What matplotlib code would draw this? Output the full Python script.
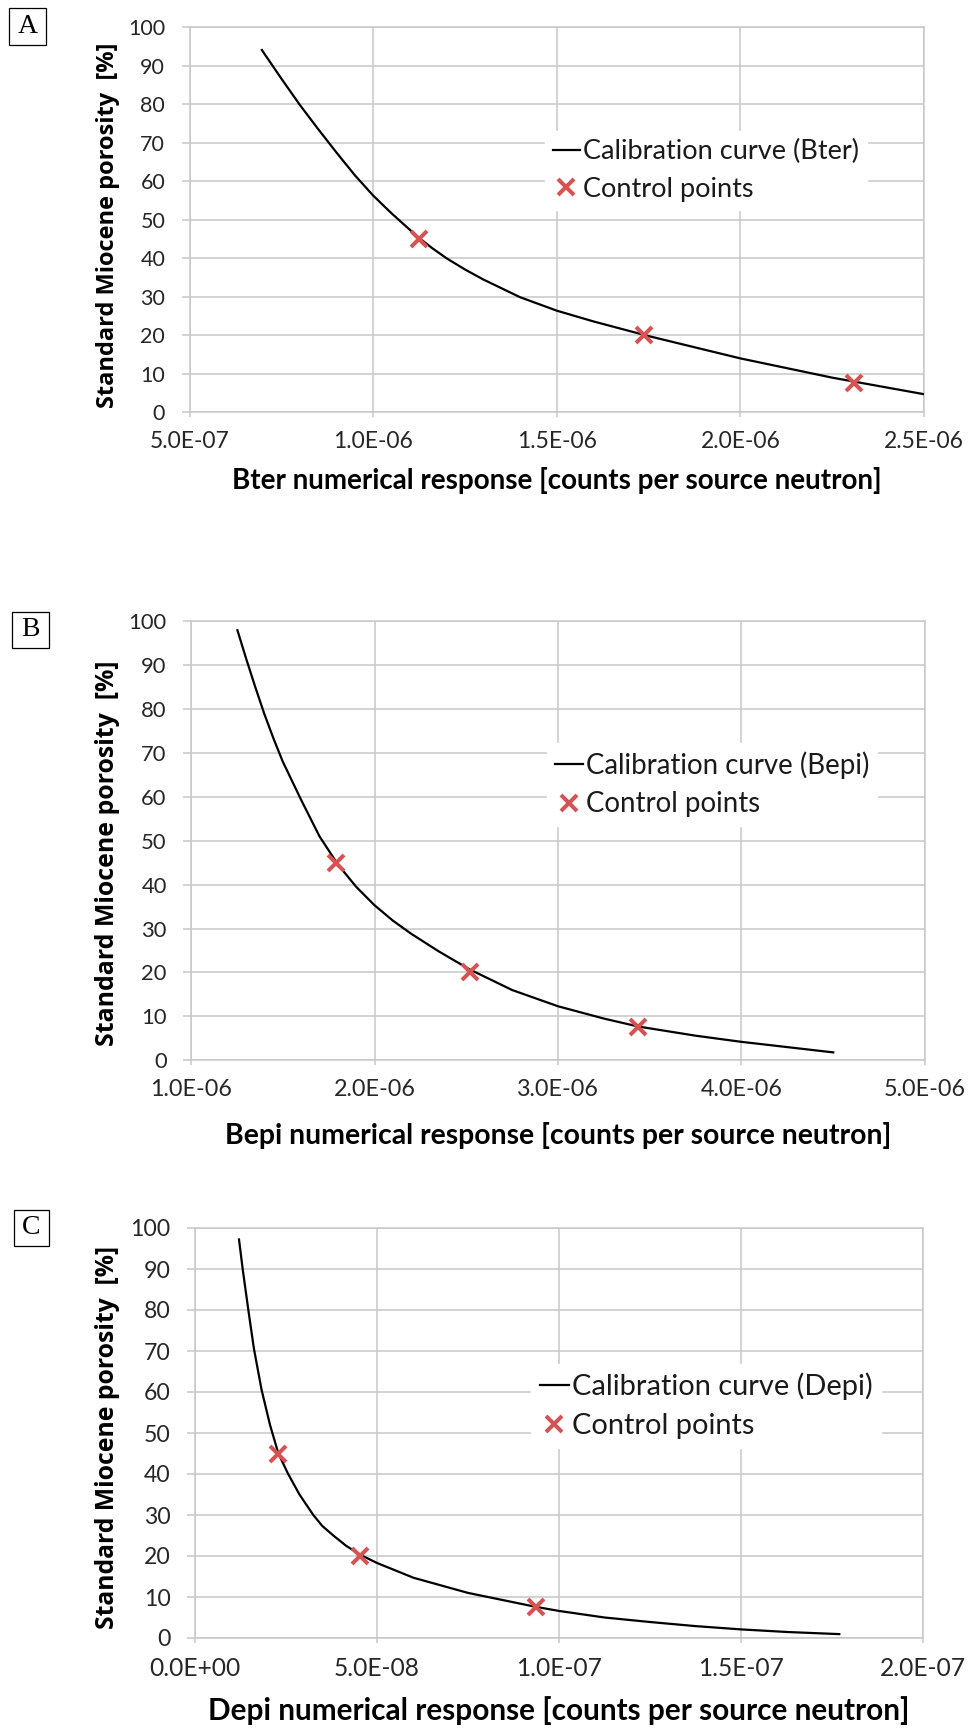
import matplotlib
matplotlib.use("Agg")
import matplotlib.pyplot as plt
from matplotlib.patches import Rectangle

W, H, DPI = 968, 1729, 100

# panel A - Bter
bter_curve_x = [6.97e-07, 7.5e-07, 8.0e-07, 8.5e-07, 9.0e-07, 9.5e-07, 1.0e-06, 1.05e-06, 1.10e-06,
                1.125e-06, 1.16e-06, 1.20e-06, 1.25e-06, 1.30e-06, 1.40e-06, 1.50e-06, 1.60e-06,
                1.75e-06, 2.0e-06, 2.25e-06, 2.5e-06]
bter_curve_y = [94.1, 86.7, 79.9, 73.6, 67.5, 61.6, 56.3, 51.7, 47.4, 45.3, 42.7, 40.0, 37.1, 34.5,
                29.9, 26.4, 23.6, 19.8, 14.0, 9.0, 4.7]
bter_ctrl_x = [1.125e-06, 1.738e-06, 2.309e-06]
bter_ctrl_y = [45, 20, 7.5]
bter_ticks = [5.0e-07, 1.0e-06, 1.5e-06, 2.0e-06, 2.5e-06]
bter_ticklabels = ["5.0E-07", "1.0E-06", "1.5E-06", "2.0E-06", "2.5E-06"]

# panel B - Bepi
bepi_curve_x = [1.253e-06, 1.30e-06, 1.35e-06, 1.40e-06, 1.45e-06, 1.50e-06, 1.60e-06, 1.70e-06,
                1.80e-06, 1.90e-06, 2.0e-06, 2.1e-06, 2.2e-06, 2.35e-06, 2.518e-06, 2.75e-06,
                3.0e-06, 3.25e-06, 3.436e-06, 3.75e-06, 4.0e-06, 4.25e-06, 4.5e-06]
bepi_curve_y = [97.9, 91.5, 85.0, 78.8, 73.2, 68.0, 59.3, 51.0, 44.6, 39.5, 35.3, 31.8, 28.8, 24.8,
                20.7, 16.0, 12.3, 9.5, 7.7, 5.6, 4.2, 3.0, 1.8]
bepi_ctrl_x = [1.789e-06, 2.518e-06, 3.436e-06]
bepi_ctrl_y = [45, 20, 7.5]
bepi_ticks = [1.0e-06, 2.0e-06, 3.0e-06, 4.0e-06, 5.0e-06]
bepi_ticklabels = ["1.0E-06", "2.0E-06", "3.0E-06", "4.0E-06", "5.0E-06"]

# panel C - Depi
depi_curve_x = [1.209e-08, 1.31e-08, 1.465e-08, 1.62e-08, 1.83e-08, 2.06e-08, 2.29e-08, 2.56e-08,
                2.87e-08, 3.25e-08, 3.5e-08, 3.8e-08, 4.15e-08, 4.54e-08, 5.0e-08, 6.0e-08, 7.5e-08,
                9.36e-08, 1.0e-07, 1.125e-07, 1.25e-07, 1.375e-07, 1.5e-07, 1.63e-07, 1.77e-07]
depi_curve_y = [97.2, 90, 80, 70.5, 60.5, 52, 45, 40, 35, 30, 27.3, 25, 22.5, 20.3, 18.3, 14.7, 11,
                7.6, 6.6, 5.0, 3.9, 2.9, 2.1, 1.45, 0.95]
depi_ctrl_x = [2.29e-08, 4.54e-08, 9.36e-08]
depi_ctrl_y = [45, 20, 7.5]
depi_ticks = [0.0, 5.0e-08, 1.0e-07, 1.5e-07, 2.0e-07]
depi_ticklabels = ["0.0E+00", "5.0E-08", "1.0E-07", "1.5E-07", "2.0E-07"]

y_ticks = [0, 10, 20, 30, 40, 50, 60, 70, 80, 90, 100]
ylabel = "Standard Miocene porosity  [%]"

panels = [
    dict(tag="A", name="Bter", cx=bter_curve_x, cy=bter_curve_y, px=bter_ctrl_x, py=bter_ctrl_y,
         ticks=bter_ticks, labels=bter_ticklabels,
         box=(189.5, 27.3, 924, 412.3), s=1.0, ys=1.0, ylab_y=0.486, xlab_y=-0.176,
         leg=(0.703, 0.628), tagbox=(9, 8, 46, 45)),
    dict(tag="B", name="Bepi", cx=bepi_curve_x, cy=bepi_curve_y, px=bepi_ctrl_x, py=bepi_ctrl_y,
         ticks=bepi_ticks, labels=bepi_ticklabels,
         box=(191, 621, 925, 1060.3), s=1.02, ys=1.055, ylab_y=0.472, xlab_y=-0.172,
         leg=(0.710, 0.628), tagbox=(12, 612, 49, 648)),
    dict(tag="C", name="Depi", cx=depi_curve_x, cy=depi_curve_y, px=depi_ctrl_x, py=depi_ctrl_y,
         ticks=depi_ticks, labels=depi_ticklabels,
         box=(195, 1228, 923, 1638), s=1.07, ys=1.05, ylab_y=0.489, xlab_y=-0.176,
         leg=(0.702, 0.567), tagbox=(13.6, 1210, 49.4, 1245.5)),
]

grid_col = "#c8c8c8"
red = "#d65353"
txt = "#262626"

fig = plt.figure(figsize=(W / DPI, H / DPI), dpi=DPI)
fig.patch.set_facecolor("white")

for p in panels:
    l, t, r, b = p["box"]
    s = p["s"]
    ax = fig.add_axes([l / W, 1 - b / H, (r - l) / W, (b - t) / H])
    ax.plot(p["cx"], p["cy"], color="black", lw=1.6, label=f"Calibration curve ({p['name']})",
            solid_joinstyle="round", zorder=3)
    ax.plot(p["px"], p["py"], ls="none", marker="x", ms=11.5, mew=2.9, color=red,
            label="Control points", zorder=4)
    ax.set_xlim(p["ticks"][0], p["ticks"][-1])
    ax.set_ylim(0, 100)
    ax.set_xticks(p["ticks"])
    ax.set_xticklabels(p["labels"])
    ax.set_yticks(y_ticks)
    ax.grid(True, color=grid_col, lw=1.1)
    ax.set_axisbelow(True)
    for sp in ax.spines.values():
        sp.set_color(grid_col)
        sp.set_linewidth(1.1)
    ax.tick_params(axis="x", length=3.6, width=1.1, color=grid_col, pad=10,
                   labelsize=16.5 * s, labelcolor=txt)
    ax.tick_params(axis="y", length=5.5, width=1.1, color=grid_col, pad=12,
                   labelsize=15.5 * s, labelcolor=txt)
    for lab in ax.get_xticklabels() + ax.get_yticklabels():
        lab.set_fontfamily("Lato")

    ax.set_xlabel(f"{p['name']} numerical response [counts per source neutron]",
                  fontfamily="Lato", fontweight="bold", fontsize=20 * s, color="black")
    ax.xaxis.label.set_va("center")
    ax.xaxis.set_label_coords(0.5, p["xlab_y"])
    ax.set_ylabel(ylabel, fontfamily="Open Sans", fontweight="bold", fontsize=17 * p["ys"], color="black")
    ax.yaxis.label.set_va("center")
    ax.yaxis.set_label_coords((108 - l) / (r - l), p["ylab_y"])

    leg = ax.legend(loc="center", bbox_to_anchor=p["leg"], frameon=True, fancybox=False,
                    prop=dict(family="Lato", size=19.5 * s), handlelength=1.0, handletextpad=0.1,
                    labelspacing=0.45, borderpad=0.3, borderaxespad=0)
    leg.get_frame().set_facecolor("white")
    leg.get_frame().set_edgecolor("white")
    leg.get_frame().set_alpha(1)
    for tx in leg.get_texts():
        tx.set_color("#1a1a1a")

    # panel letter box
    x0, y0, x1, y1 = p["tagbox"]
    fig.patches.append(Rectangle((x0 / W, 1 - y1 / H), (x1 - x0) / W, (y1 - y0) / H,
                                 transform=fig.transFigure, fill=False, edgecolor="black", lw=0.9))
    fig.text((x0 + x1) / 2 / W, 1 - (y0 + y1) / 2 / H, p["tag"], ha="center", va="center",
             fontfamily="Liberation Serif", fontsize=20, color="black")

fig.savefig("out.png", dpi=DPI, facecolor="white")
